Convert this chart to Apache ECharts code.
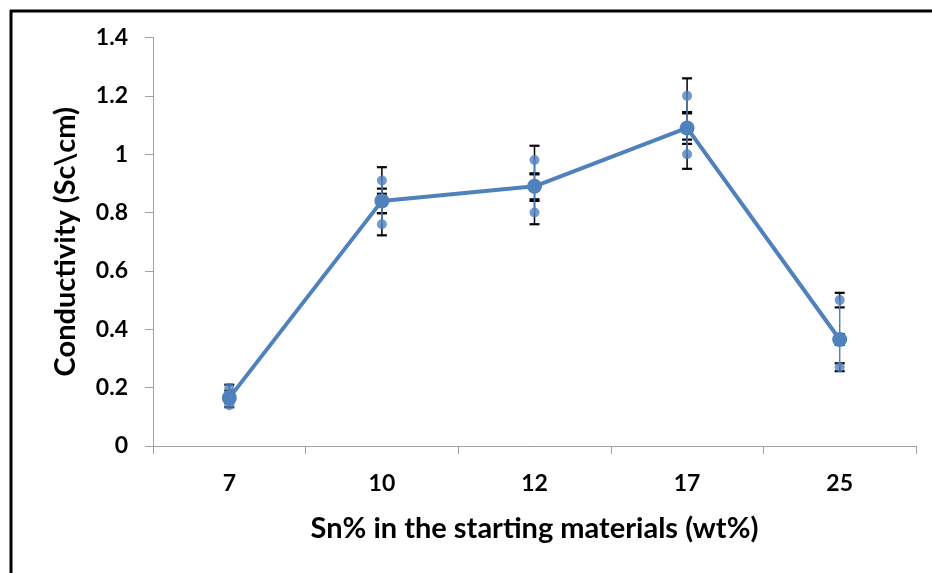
<!DOCTYPE html>
<html>
<head>
<meta charset="utf-8">
<script src="https://cdn.jsdelivr.net/npm/echarts@6/dist/echarts.min.js"></script>
<style>
html,body{margin:0;padding:0;background:#fff;}
#chart{width:932px;height:573px;}
</style>
</head>
<body>
<div id="chart"></div>
<script>
// ---- data ----
var categories = ['7', '10', '12', '17', '25'];
var meanValues = [0.165, 0.84, 0.89, 1.09, 0.365];
var upperValues = [0.20, 0.91, 0.98, 1.20, 0.50];
var lowerValues = [0.14, 0.76, 0.80, 1.00, 0.27];
var errorPercent = 5; // Excel percentage error bars
var yTicks = { min: 0, max: 1.4, interval: 0.2 };
var xTitle = 'Sn% in the starting materials (wt%)';
var yTitle = 'Conductivity (Sc\\cm)';

var BLUE = '#4f81bd';
var FONT = 'Lato';

function errData(vals) {
  return vals.map(function (v, i) {
    var e = v * errorPercent / 100;
    return [i, v - e, v + e];
  });
}
var errorSets = [].concat(errData(upperValues), errData(meanValues), errData(lowerValues));
var hiLo = categories.map(function (c, i) { return [i, lowerValues[i], upperValues[i]]; });

function renderErr(params, api) {
  var i = api.value(0);
  var lo = api.coord([i, api.value(1)]);
  var hi = api.coord([i, api.value(2)]);
  var hw = 5;
  return {
    type: 'group',
    children: [
      { type: 'line', shape: { x1: lo[0], y1: lo[1], x2: hi[0], y2: hi[1] }, style: { stroke: '#000', lineWidth: 1.5 } },
      { type: 'line', shape: { x1: lo[0] - hw, y1: lo[1], x2: lo[0] + hw, y2: lo[1] }, style: { stroke: '#000', lineWidth: 2.2 } },
      { type: 'line', shape: { x1: hi[0] - hw, y1: hi[1], x2: hi[0] + hw, y2: hi[1] }, style: { stroke: '#000', lineWidth: 2.2 } }
    ]
  };
}
function renderHiLo(params, api) {
  var i = api.value(0);
  var lo = api.coord([i, api.value(1)]);
  var hi = api.coord([i, api.value(2)]);
  return { type: 'line', shape: { x1: lo[0], y1: lo[1], x2: hi[0], y2: hi[1] }, style: { stroke: BLUE, lineWidth: 1.5 } };
}

var chart = echarts.init(document.getElementById('chart'), null, { renderer: 'canvas' });
chart.setOption({
  animation: false,
  backgroundColor: '#fff',
  grid: { left: 153, right: 16, top: 37.5, bottom: 127, containLabel: false },
  xAxis: {
    type: 'category',
    data: categories,
    boundaryGap: true,
    axisLine: { lineStyle: { color: '#a0a0a0', width: 1 } },
    axisTick: { show: true, length: 8, lineStyle: { color: '#a0a0a0' } },
    axisLabel: { color: '#000', fontFamily: FONT, fontWeight: 'bold', fontSize: 23, margin: 26 },
    name: xTitle,
    nameLocation: 'middle',
    nameGap: 68,
    nameTextStyle: { color: '#000', fontFamily: FONT, fontWeight: 'bold', fontSize: 29 }
  },
  yAxis: {
    type: 'value',
    min: yTicks.min, max: yTicks.max, interval: yTicks.interval,
    axisLine: { show: true, lineStyle: { color: '#a0a0a0', width: 1 } },
    axisTick: { show: true, length: 8, lineStyle: { color: '#a0a0a0' } },
    splitLine: { show: false },
    axisLabel: { color: '#000', fontFamily: FONT, fontWeight: 'bold', fontSize: 23, margin: 25 },
    name: yTitle,
    nameLocation: 'middle',
    nameGap: 73,
    nameTextStyle: { color: '#000', fontFamily: FONT, fontWeight: 'bold', fontSize: 29 }
  },
  graphic: [
    { type: 'line', shape: { x1: 11, y1: 10, x2: 11, y2: 573 }, style: { stroke: '#000', lineWidth: 3 }, z: 100 },
    { type: 'line', shape: { x1: 10, y1: 11, x2: 932, y2: 11 }, style: { stroke: '#000', lineWidth: 3 }, z: 100 }
  ],
  series: [
    { type: 'custom', name: 'errors', data: errorSets, renderItem: renderErr, z: 1, encode: { x: 0, y: [1, 2] } },
    { type: 'custom', name: 'range', data: hiLo, renderItem: renderHiLo, z: 2, encode: { x: 0, y: [1, 2] } },
    { type: 'line', name: 'mean', data: meanValues, symbol: 'circle', symbolSize: 15,
      lineStyle: { color: BLUE, width: 4 }, itemStyle: { color: BLUE }, z: 4 },
    { type: 'scatter', name: 'upper', data: upperValues, symbol: 'circle', symbolSize: 10, itemStyle: { color: BLUE }, z: 3 },
    { type: 'scatter', name: 'lower', data: lowerValues, symbol: 'circle', symbolSize: 10, itemStyle: { color: BLUE }, z: 3 }
  ]
});
</script>
</body>
</html>
